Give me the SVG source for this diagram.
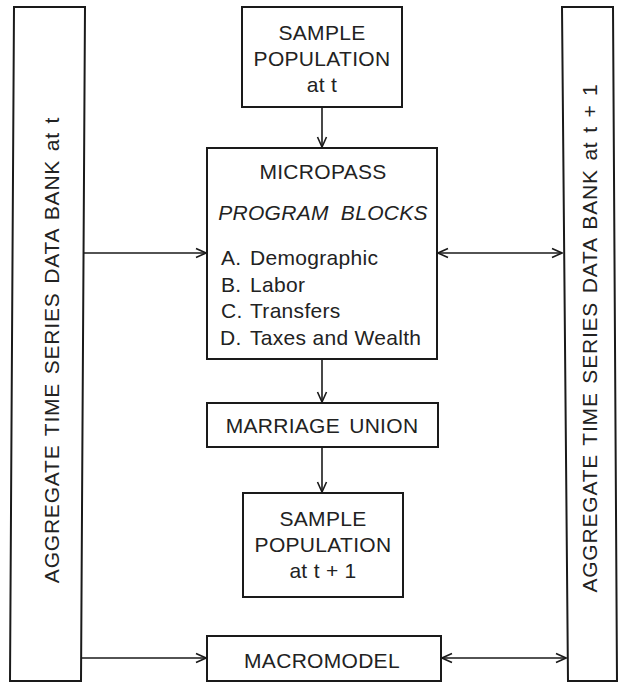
<svg xmlns="http://www.w3.org/2000/svg" width="625" height="682" viewBox="0 0 625 682">
<style>
.box{fill:#fff;stroke:#1a1a1a;stroke-width:2}
.t{font-family:"Liberation Sans",Arial,Helvetica,sans-serif;font-size:21px;fill:#222;letter-spacing:0.3px}
.c{text-anchor:middle}
.side{font-size:21px;letter-spacing:0.8px;word-spacing:2px}
.con{fill:none;stroke:#1a1a1a;stroke-width:1.6}
</style>
<defs>
<marker id="ah" viewBox="0 0 12 12" refX="11" refY="6" markerWidth="12" markerHeight="12" markerUnits="userSpaceOnUse" orient="auto-start-reverse">
<path d="M1,1.5 L11,6 L1,10.5" fill="none" stroke="#1a1a1a" stroke-width="1.6"/>
</marker>
</defs>
<rect width="625" height="682" fill="#fff"/>

<g id="bank-t">
<polygon class="box" points="14,7 85,7 81,681 10,681"/>
<text class="t side c" transform="translate(59,350) rotate(-90)">AGGREGATE TIME SERIES DATA BANK at t</text>
</g>

<g id="bank-t1">
<polygon class="box" points="562,7 613,7 617,681 568,681"/>
<text class="t side c" transform="translate(597,338) rotate(-90)">AGGREGATE TIME SERIES DATA BANK at t + 1</text>
</g>

<g id="sample-t">
<rect class="box" x="242" y="7" width="160" height="100"/>
<text class="t c" x="322" y="40">SAMPLE</text>
<text class="t c" x="322" y="66">POPULATION</text>
<text class="t c" x="322" y="92">at t</text>
</g>

<g id="micropass">
<rect class="box" x="207" y="148" width="230" height="211"/>
<text class="t c" x="323" y="179">MICROPASS</text>
<text class="t c" x="323" y="220" font-style="italic" word-spacing="6">PROGRAM BLOCKS</text>
<text class="t" x="221" y="265">A.</text><text class="t" x="250" y="265">Demographic</text>
<text class="t" x="221" y="292">B.</text><text class="t" x="250" y="292">Labor</text>
<text class="t" x="221" y="318">C.</text><text class="t" x="250" y="318">Transfers</text>
<text class="t" x="220" y="345">D.</text><text class="t" x="250" y="345">Taxes and Wealth</text>
</g>

<g id="marriage">
<rect class="box" x="207" y="403" width="231" height="44"/>
<text class="t c" x="322" y="433" word-spacing="3">MARRIAGE UNION</text>
</g>

<g id="sample-t1">
<rect class="box" x="243" y="493" width="160" height="104"/>
<text class="t c" x="323" y="526">SAMPLE</text>
<text class="t c" x="323" y="552">POPULATION</text>
<text class="t c" x="323" y="578">at t + 1</text>
</g>

<g id="macromodel">
<rect class="box" x="207" y="636" width="234" height="45"/>
<text class="t c" x="322" y="668">MACROMODEL</text>
</g>

<g id="connectors">
<line class="con" x1="322" y1="107" x2="322" y2="147" marker-end="url(#ah)"/>
<line class="con" x1="84" y1="253" x2="206" y2="253" marker-end="url(#ah)"/>
<line class="con" x1="438" y1="253" x2="562" y2="253" marker-start="url(#ah)" marker-end="url(#ah)"/>
<line class="con" x1="322" y1="359" x2="322" y2="402" marker-end="url(#ah)"/>
<line class="con" x1="322" y1="447" x2="322" y2="492" marker-end="url(#ah)"/>
<line class="con" x1="81" y1="658" x2="206" y2="658" marker-end="url(#ah)"/>
<line class="con" x1="442" y1="658" x2="566" y2="658" marker-start="url(#ah)" marker-end="url(#ah)"/>
</g>
</svg>
